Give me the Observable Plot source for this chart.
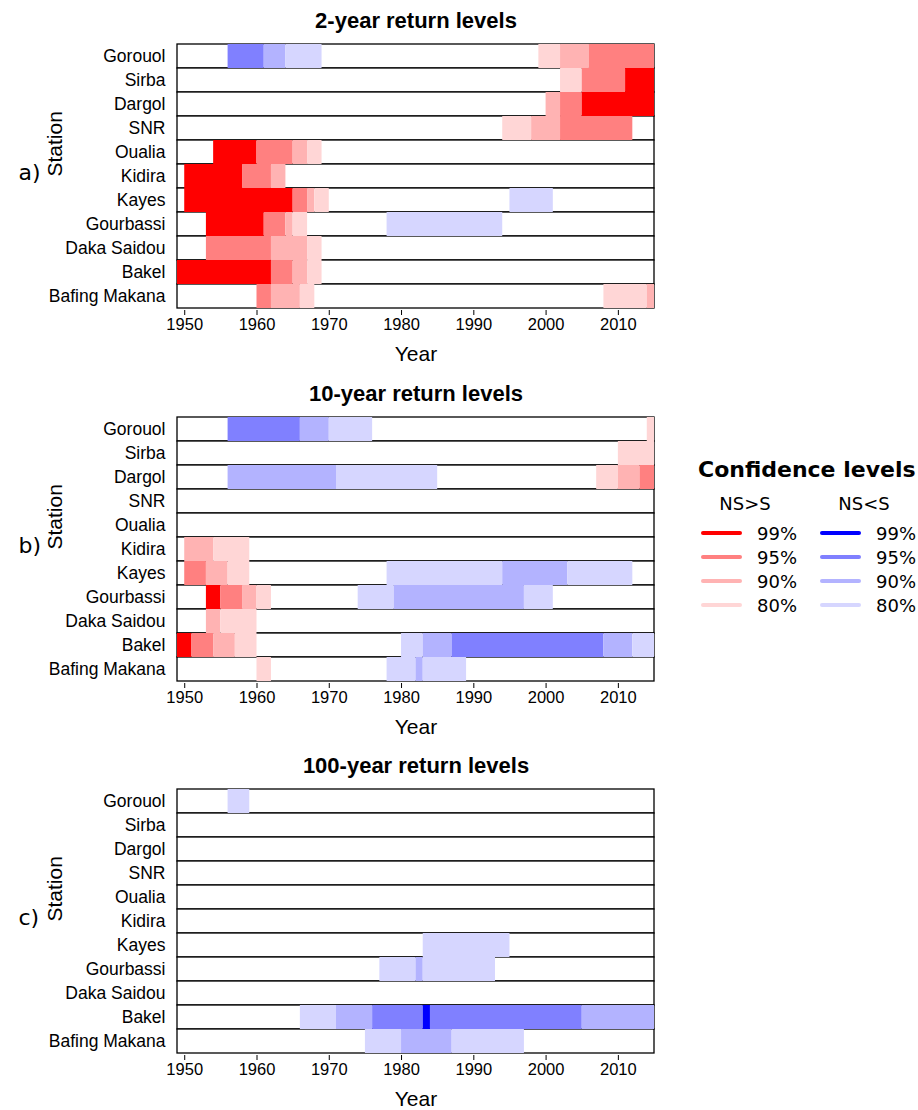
<!DOCTYPE html>
<html>
<head>
<meta charset="utf-8">
<script src="https://cdn.jsdelivr.net/npm/d3@7"></script>
<script src="https://cdn.jsdelivr.net/npm/@observablehq/plot@0.6"></script>
<style>
  html, body { margin: 0; padding: 0; background: white; }
  body { width: 918px; height: 1110px; overflow: hidden; position: relative; }
  .panel { position: absolute; left: 0; }
  #legend { position: absolute; left: 690px; top: 440px; }
</style>
</head>
<body>
<div id="pa" class="panel" style="top:0px"></div>
<div id="pb" class="panel" style="top:373px"></div>
<div id="pc" class="panel" style="top:745px"></div>
<div id="legend"></div>
<script>
// ---------- data ----------
const stations = ["Gorouol", "Sirba", "Dargol", "SNR", "Oualia", "Kidira", "Kayes",
  "Gourbassi", "Daka Saidou", "Bakel", "Bafing Makana"];
const yearDomain = [1949, 2015];
const yearTicks = [1950, 1960, 1970, 1980, 1990, 2000, 2010];
const panelTitles = ["2-year return levels", "10-year return levels", "100-year return levels"];
const panelTags = ["a)", "b)", "c)"];

// level codes: R = NS>S, B = NS<S
const levelCodes = ["R99", "R95", "R90", "R80", "B99", "B95", "B90", "B80"];
const levelColors = ["#FF0000", "#FF8080", "#FFB3B3", "#FFD6D6", "#0000FF", "#8080FF", "#B3B3FF", "#D6D6FF"];

// [station, start year, end year, level]
const rl2 = [
  ["Gorouol", 1956, 1961, "B95"], ["Gorouol", 1961, 1964, "B90"], ["Gorouol", 1964, 1969, "B80"],
  ["Gorouol", 1999, 2002, "R80"], ["Gorouol", 2002, 2006, "R90"], ["Gorouol", 2006, 2015, "R95"],
  ["Sirba", 2002, 2005, "R80"], ["Sirba", 2005, 2011, "R95"], ["Sirba", 2011, 2015, "R99"],
  ["Dargol", 2000, 2002, "R90"], ["Dargol", 2002, 2005, "R95"], ["Dargol", 2005, 2015, "R99"],
  ["SNR", 1994, 1998, "R80"], ["SNR", 1998, 2002, "R90"], ["SNR", 2002, 2012, "R95"],
  ["Oualia", 1954, 1960, "R99"], ["Oualia", 1960, 1965, "R95"], ["Oualia", 1965, 1967, "R90"], ["Oualia", 1967, 1969, "R80"],
  ["Kidira", 1950, 1958, "R99"], ["Kidira", 1958, 1962, "R95"], ["Kidira", 1962, 1964, "R90"],
  ["Kayes", 1950, 1965, "R99"], ["Kayes", 1965, 1967, "R95"], ["Kayes", 1967, 1968, "R90"], ["Kayes", 1968, 1970, "R80"],
  ["Kayes", 1995, 2001, "B80"],
  ["Gourbassi", 1953, 1961, "R99"], ["Gourbassi", 1961, 1964, "R95"], ["Gourbassi", 1964, 1965, "R90"], ["Gourbassi", 1965, 1967, "R80"],
  ["Gourbassi", 1978, 1994, "B80"],
  ["Daka Saidou", 1953, 1962, "R95"], ["Daka Saidou", 1962, 1967, "R90"], ["Daka Saidou", 1967, 1969, "R80"],
  ["Bakel", 1949, 1962, "R99"], ["Bakel", 1962, 1965, "R95"], ["Bakel", 1965, 1967, "R90"], ["Bakel", 1967, 1969, "R80"],
  ["Bafing Makana", 1960, 1962, "R95"], ["Bafing Makana", 1962, 1966, "R90"], ["Bafing Makana", 1966, 1968, "R80"],
  ["Bafing Makana", 2008, 2014, "R80"], ["Bafing Makana", 2014, 2015, "R90"]
];

const rl10 = [
  ["Gorouol", 1956, 1966, "B95"], ["Gorouol", 1966, 1970, "B90"], ["Gorouol", 1970, 1976, "B80"], ["Gorouol", 2014, 2015, "R80"],
  ["Sirba", 2010, 2015, "R80"],
  ["Dargol", 1956, 1971, "B90"], ["Dargol", 1971, 1985, "B80"],
  ["Dargol", 2007, 2010, "R80"], ["Dargol", 2010, 2013, "R90"], ["Dargol", 2013, 2015, "R95"],
  ["Kidira", 1950, 1954, "R90"], ["Kidira", 1954, 1959, "R80"],
  ["Kayes", 1950, 1953, "R95"], ["Kayes", 1953, 1956, "R90"], ["Kayes", 1956, 1959, "R80"],
  ["Kayes", 1978, 1994, "B80"], ["Kayes", 1994, 2003, "B90"], ["Kayes", 2003, 2012, "B80"],
  ["Gourbassi", 1953, 1955, "R99"], ["Gourbassi", 1955, 1958, "R95"], ["Gourbassi", 1958, 1960, "R90"], ["Gourbassi", 1960, 1962, "R80"],
  ["Gourbassi", 1974, 1979, "B80"], ["Gourbassi", 1979, 1997, "B90"], ["Gourbassi", 1997, 2001, "B80"],
  ["Daka Saidou", 1953, 1955, "R90"], ["Daka Saidou", 1955, 1960, "R80"],
  ["Bakel", 1949, 1951, "R99"], ["Bakel", 1951, 1954, "R95"], ["Bakel", 1954, 1957, "R90"], ["Bakel", 1957, 1960, "R80"],
  ["Bakel", 1980, 1983, "B80"], ["Bakel", 1983, 1987, "B90"], ["Bakel", 1987, 2008, "B95"], ["Bakel", 2008, 2012, "B90"], ["Bakel", 2012, 2015, "B80"],
  ["Bafing Makana", 1960, 1962, "R80"],
  ["Bafing Makana", 1978, 1982, "B80"], ["Bafing Makana", 1982, 1983, "B90"], ["Bafing Makana", 1983, 1989, "B80"]
];

const rl100 = [
  ["Gorouol", 1956, 1959, "B80"],
  ["Kayes", 1983, 1995, "B80"],
  ["Gourbassi", 1977, 1982, "B80"], ["Gourbassi", 1982, 1983, "B90"], ["Gourbassi", 1983, 1993, "B80"],
  ["Bakel", 1966, 1971, "B80"], ["Bakel", 1971, 1976, "B90"], ["Bakel", 1976, 1983, "B95"], ["Bakel", 1983, 1984, "B99"],
  ["Bakel", 1984, 2005, "B95"], ["Bakel", 2005, 2015, "B90"],
  ["Bafing Makana", 1975, 1980, "B80"], ["Bafing Makana", 1980, 1987, "B90"], ["Bafing Makana", 1987, 1997, "B80"]
];

// legend
const legendTitle = "Confidence levels";
const legendGroups = ["NS>S", "NS<S"];
const legendLabels = ["99%", "95%", "90%", "80%"];
const legendRed = ["R99", "R95", "R90", "R80"];
const legendBlue = ["B99", "B95", "B90", "B80"];

// ---------- drawing ----------
const colorOf = code => levelColors[levelCodes.indexOf(code)];

function panel(data, title, tag, height) {
  return Plot.plot({
    width: 690,
    height,
    marginLeft: 177,
    marginRight: 36,
    marginTop: 42,
    marginBottom: height - 42 - 268,
    style: {fontFamily: "'Liberation Sans', Arial, sans-serif", color: "black", background: "white", overflow: "visible"},
    x: {domain: yearDomain},
    y: {domain: stations, padding: 0},
    color: {type: "identity"},
    marks: [
      Plot.barX(stations, {x1: () => yearDomain[0], x2: () => yearDomain[1], y: d => d, fill: "white", stroke: "black", strokeWidth: 1.3}),
      Plot.barX(data, {x1: d => d[1], x2: d => d[2], y: d => d[0], fill: d => colorOf(d[3])}),
      Plot.axisX({ticks: yearTicks, tickFormat: d => String(d), tickSize: 5, tickPadding: 3, fontSize: 16.5, label: null, stroke: "black"}),
      Plot.axisY({tickSize: 0, tickPadding: 12, fontSize: 17.5, label: null}),
      Plot.text([title], {frameAnchor: "top", lineAnchor: "middle", dy: -22, fontSize: 22, fontWeight: "bold", text: d => d}),
      Plot.text(["Year"], {frameAnchor: "bottom", lineAnchor: "middle", dy: 44, fontSize: 21, text: d => d}),
      Plot.text(["Station"], {frameAnchor: "left", lineAnchor: "middle", dx: -122, rotate: -90, fontSize: 21, text: d => d}),
      Plot.text([tag], {frameAnchor: "left", lineAnchor: "middle", dx: -159, dy: -4, fontSize: 22, fontFamily: "DejaVu Sans", text: d => d})
    ]
  });
}

document.getElementById("pa").append(panel(rl2, panelTitles[0], panelTags[0], 373));
document.getElementById("pb").append(panel(rl10, panelTitles[1], panelTags[1], 372));
document.getElementById("pc").append(panel(rl100, panelTitles[2], panelTags[2], 365));

// legend (page coords offset: left 690, top 440)
const lg = d3.create("svg").attr("width", 228).attr("height", 180)
  .style("font-family", "'DejaVu Sans', sans-serif");
lg.append("text").attr("x", 8).attr("y", 29).attr("dominant-baseline", "central")
  .attr("font-size", 22).attr("font-weight", "bold").text(legendTitle);
const colX = [0, 119];
legendGroups.forEach((g, gi) => {
  const ox = colX[gi];
  lg.append("text").attr("x", ox + 55).attr("y", 63).attr("text-anchor", "middle")
    .attr("dominant-baseline", "central").attr("font-size", 18).text(g);
  const codes = gi === 0 ? legendRed : legendBlue;
  legendLabels.forEach((lab, i) => {
    const y = 93 + i * 24;
    lg.append("line").attr("x1", ox + 13).attr("x2", ox + 50).attr("y1", y).attr("y2", y)
      .attr("stroke", colorOf(codes[i])).attr("stroke-width", 4).attr("stroke-linecap", "round");
    lg.append("text").attr("x", ox + 67).attr("y", y).attr("dominant-baseline", "central")
      .attr("font-size", 18).text(lab);
  });
});
document.getElementById("legend").append(lg.node());
</script>
</body>
</html>
